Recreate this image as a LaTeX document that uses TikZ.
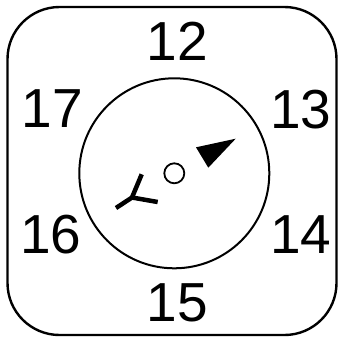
\documentclass[tikz,border=0pt]{standalone}
\usepackage{fontspec}
\setmainfont{Liberation Sans}
\tikzset{
  num/.style={anchor=base,inner sep=0pt,font=\fontsize{55}{60}\selectfont},
  frame/.style={draw=black,line width=2.4pt},
  dial/.style={draw=black,line width=2pt},
}
\begin{document}
\begin{tikzpicture}[x=1pt,y=-1pt]
\useasboundingbox (0,0) rectangle (342,340);
\draw[frame,rounded corners=52pt] (7.5,7) rectangle (336.5,335);
\node[dial,circle,minimum size=190pt,inner sep=0pt] (dial) at (174.3,173.3) {};
\node[dial,circle,minimum size=20pt,inner sep=0pt,line width=1.8pt] (hub) at (174.3,173.3) {};
\fill (196,147.3) -- (235.7,138.7) -- (208.3,167.7) -- cycle;
\draw[line width=4.5pt] (141.7,174.3) -- (132,197.5);
\draw[line width=4.5pt] (116,208) -- (132,197.5) -- (157.7,202);
\node[num] (n12) at (177.5,60) {12};
\node[num] (n17) at (52.5,127) {17};
\node[num] (n13) at (301,128) {13};
\node[num] (n16) at (51,253.3) {16};
\node[num] (n14) at (301,253.3) {14};
\node[num] (n15) at (177.5,321.7) {15};
\end{tikzpicture}
\end{document}
